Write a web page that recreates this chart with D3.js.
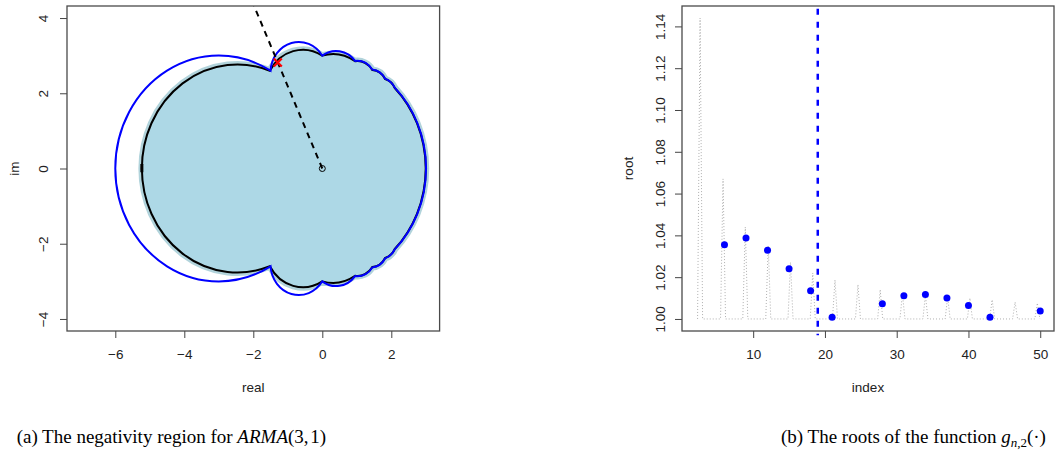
<!DOCTYPE html>
<html>
<head>
<meta charset="utf-8">
<script src="https://cdn.jsdelivr.net/npm/d3@7"></script>
<style>
  body { margin: 0; background: #fff; }
  svg text { font-family: "Liberation Sans", Arial, sans-serif; font-size: 13.5px; fill: #222; }
  .cap { font-family: "Liberation Serif", "DejaVu Serif", serif; font-size: 19px; fill: #000; }
  .tick line { stroke: #444; }
</style>
</head>
<body>
<svg id="chart" width="1055" height="457"></svg>
<script>
// ---------- panel (a): negativity region ----------
// boundary points (real, im) and the radius of the arc that reaches each point
var blackRe = [-1.52, 0, 0.95, 1.45, 1.82, 2.1, 2.1, 1.82, 1.45, 0.95, 0, -1.52, -5.23, -1.52];
var blackIm = [2.6, 3.0, 2.85, 2.62, 2.38, 2.14, -2.14, -2.38, -2.62, -2.85, -3.0, -2.6, 0, 2.6];
var blackRad = [0, 1.1, 1.2, 0.5, 0.45, 0.45, 3.0, 0.45, 0.45, 0.5, 1.2, 1.1, 2.77, 2.77];

var blueRe = [-1.5, 0, 0.95, 1.45, 1.82, 2.1, 2.1, 1.82, 1.45, 0.95, 0, -1.5, -6.0, -1.5];
var blueIm = [2.6, 3.0, 2.86, 2.63, 2.39, 2.15, -2.15, -2.39, -2.63, -2.86, -3.0, -2.6, 0, 2.6];
var blueRad = [0, 0.82, 0.7, 0.55, 0.5, 0.5, 3.0, 0.5, 0.5, 0.55, 0.7, 0.82, 3.0, 3.0];

var rayRe = [0, -2.0], rayIm = [0, 4.37];   // dashed ray from the origin
var crossRe = -1.29, crossIm = 2.82;          // red cross
var reTicks = [-6, -4, -2, 0, 2];
var imTicks = [-4, -2, 0, 2, 4];

// ---------- panel (b): roots of g_{n,2} ----------
var idx   = [6, 9, 12, 15, 18, 21, 28, 31, 34, 37, 40, 43, 50];
var roots = [1.0355, 1.0387, 1.0329, 1.0240, 1.0135, 1.0008, 1.0073, 1.0111, 1.0117, 1.0100, 1.0065, 1.0008, 1.0038];
var spikeIdx = [2.6, 5.8, 8.9, 12.1, 15.2, 18.3, 21.4, 24.6, 27.7, 30.8, 34.0, 37.1, 40.2, 43.3, 46.5, 49.6];
var spikeTop = [1.144, 1.067, 1.044, 1.035, 1.027, 1.022, 1.0187, 1.0164, 1.014, 1.012, 1.0115, 1.0105, 1.0100, 1.0092, 1.0081, 1.0076];
var cutIndex = 19;
var cutRange = [0.9922, 1.1485];
var idxTicks = [10, 20, 30, 40, 50];
var rootTicks = [1.00, 1.02, 1.04, 1.06, 1.08, 1.10, 1.12, 1.14];

var svg = d3.select("#chart");

// R-like box + axes
function rAxes(g, x, y, xt, yt, yfmt, ylabOff, xlab, ylab, ylabX) {
  var x0 = x.range()[0], x1 = x.range()[1], y0 = y.range()[0], y1 = y.range()[1];
  var ax = g.append("g").attr("transform", "translate(0," + y0 + ")")
      .call(d3.axisBottom(x).tickValues(xt).tickSize(7));
  ax.select(".domain").remove();
  ax.selectAll("text").attr("y", 28).attr("dy", 0);
  var ay = g.append("g").attr("transform", "translate(" + x0 + ",0)")
      .call(d3.axisLeft(y).tickValues(yt).tickSize(7).tickFormat(yfmt));
  ay.select(".domain").remove();
  ay.selectAll("text").attr("x", 0).attr("y", -ylabOff).attr("dy", 0)
      .attr("text-anchor", "middle").attr("transform", "rotate(-90)");
  g.append("rect").attr("x", x0).attr("y", y1).attr("width", x1 - x0).attr("height", y0 - y1)
      .attr("fill", "none").attr("stroke", "#4a4a4a").attr("stroke-width", 1.3);
  g.append("text").attr("x", (x0 + x1) / 2).attr("y", 392).attr("text-anchor", "middle").text(xlab);
  g.append("text").attr("transform", "translate(" + ylabX + "," + ((y0 + y1) / 2) + ") rotate(-90)")
      .attr("text-anchor", "middle").text(ylab);
}

// ---------- draw panel (a) ----------
var xa = d3.scaleLinear().domain([-7.4, 3.4]).range([67, 439.6]);
var ya = d3.scaleLinear().domain([-4.32, 4.32]).range([331, 6]);

function arcPath(re, im, rad) {
  var kx = Math.abs(xa(1) - xa(0)), ky = Math.abs(ya(1) - ya(0));
  var p = "M" + xa(re[0]) + "," + ya(im[0]);
  for (var i = 1; i < re.length; i++) {
    p += "A" + (rad[i] * kx) + "," + (rad[i] * ky) + " 0 0 1 " + xa(re[i]) + "," + ya(im[i]);
  }
  return p + "Z";
}

svg.append("clipPath").attr("id", "clipA").append("rect")
    .attr("x", 67).attr("y", 6).attr("width", 372.6).attr("height", 325);

var ga = svg.append("g");
var pa = ga.append("g").attr("clip-path", "url(#clipA)");
var regionPath = arcPath(blackRe, blackIm, blackRad);

pa.append("path").attr("d", regionPath).attr("fill", "none")
    .attr("stroke", "#a3cbd5").attr("stroke-width", 7).attr("stroke-opacity", 0.85);
pa.append("path").attr("d", regionPath).attr("fill", "#add8e6");
pa.append("path").attr("d", regionPath).attr("fill", "none")
    .attr("stroke", "#000").attr("stroke-width", 2);
pa.append("line").attr("x1", xa(-5.23)).attr("x2", xa(-5.23)).attr("y1", ya(0.12)).attr("y2", ya(-0.1))
    .attr("stroke", "#000").attr("stroke-width", 3);
pa.append("path").attr("d", arcPath(blueRe, blueIm, blueRad)).attr("fill", "none")
    .attr("stroke", "#0000ff").attr("stroke-width", 2);

pa.append("line").attr("x1", xa(rayRe[0])).attr("y1", ya(rayIm[0]))
    .attr("x2", xa(rayRe[1])).attr("y2", ya(rayIm[1]))
    .attr("stroke", "#000").attr("stroke-width", 2).attr("stroke-dasharray", "6,5");
pa.append("circle").attr("cx", xa(0)).attr("cy", ya(0)).attr("r", 3)
    .attr("fill", "none").attr("stroke", "#000").attr("stroke-width", 1);
var cx = xa(crossRe), cy = ya(crossIm);
pa.append("path").attr("d", "M" + (cx - 4) + "," + (cy - 4) + "L" + (cx + 4) + "," + (cy + 4) +
    "M" + (cx - 4) + "," + (cy + 4) + "L" + (cx + 4) + "," + (cy - 4))
    .attr("stroke", "#ff0000").attr("stroke-width", 2.2);

rAxes(ga, xa, ya, reTicks, imTicks, d3.format("d"), 19, "real", "im", 19);

// ---------- draw panel (b) ----------
var xb = d3.scaleLinear().domain([0.08, 51.92]).range([682, 1054]);
var yb = d3.scaleLinear().domain([0.99424, 1.14976]).range([331, 6]);
var gb = svg.append("g");

var curve = [];
spikeIdx.forEach(function(s, i) {
  curve.push([s - 0.35, 1.0], [s, spikeTop[i]], [s + 0.35, 1.0]);
});
gb.append("path").datum(curve)
    .attr("d", d3.line().x(function(d) { return xb(d[0]); }).y(function(d) { return yb(d[1]); }))
    .attr("fill", "none").attr("stroke", "#b0b0b0").attr("stroke-width", 1)
    .attr("stroke-dasharray", "1,2");

gb.append("line").attr("x1", xb(cutIndex)).attr("x2", xb(cutIndex))
    .attr("y1", yb(cutRange[1])).attr("y2", yb(cutRange[0]))
    .attr("stroke", "#0000ff").attr("stroke-width", 2.5).attr("stroke-dasharray", "6,7");

gb.selectAll(".pt").data(idx).enter().append("circle").attr("class", "pt")
    .attr("cx", function(d) { return xb(d); })
    .attr("cy", function(d, i) { return yb(roots[i]); })
    .attr("r", 3.5).attr("fill", "#0000ff");

rAxes(gb, xb, yb, idxTicks, rootTicks, d3.format(".2f"), 17.5, "index", "root", 633);

// ---------- captions ----------
var capA = svg.append("text").attr("class", "cap").attr("x", 326).attr("y", 443).attr("text-anchor", "end");
capA.append("tspan").text("(a) The negativity region for ");
capA.append("tspan").attr("font-style", "italic").text("ARMA");
capA.append("tspan").text("(3,\u200a1)");

var capB = svg.append("text").attr("class", "cap").attr("x", 781).attr("y", 443);
capB.append("tspan").text("(b) The roots of the function ");
capB.append("tspan").attr("font-style", "italic").text("g");
capB.append("tspan").attr("font-size", "13px").attr("dy", 4).attr("font-style", "italic").text("n");
capB.append("tspan").attr("font-size", "13px").text(",2");
capB.append("tspan").attr("dy", -4).text("(\u00b7)");
</script>
</body>
</html>
